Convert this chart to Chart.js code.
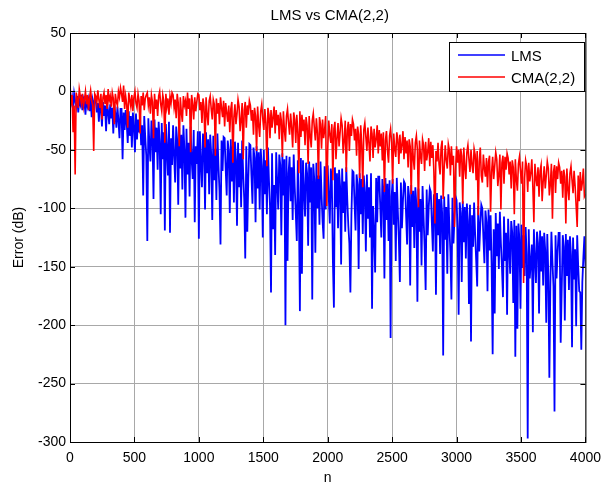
<!DOCTYPE html>
<html>
<head>
<meta charset="utf-8">
<script src="https://cdn.jsdelivr.net/npm/chart.js@4.4.0/dist/chart.umd.min.js"></script>
<style>html,body{margin:0;padding:0;background:#fff;}</style>
</head>
<body>
<canvas id="myChart" width="609" height="485"></canvas>
<script>
// error curves (dB), one value every 8 samples, n = 0..4000
var lms = [
 -3,-10,-5,-15,-2,-8,-13,-4,-18,-7,-11,-3,-16,-6,-9,-20,-4,-12,-7,-17,-5,-22,-8,-14,-6,
 -7,-18,-10,-26,-8,-15,-30,-9,-21,-12,-34,-10,-17,-28,-11,-23,-14,-36,-12,-19,-31,-13,-25,-40,-15,
 -15,-58,-18,-33,-16,-27,-44,-17,-38,-21,-48,-18,-30,-52,-19,-41,-24,-35,-20,-46,-29,-89,-21,-39,-55,
 -128,-23,-45,-60,-25,-38,-92,-24,-52,-31,-67,-26,-43,-105,-27,-58,-35,-119,-28,-49,-72,-26,-121,-40,-63,
 -29,-55,-78,-30,-42,-97,-31,-66,-37,-84,-29,-50,-108,-32,-71,-44,-90,-30,-58,-75,-33,-112,-47,-62,-34,
 -126,-34,-60,-82,-36,-47,-101,-35,-70,-41,-88,-37,-54,-110,-38,-76,-49,-93,-36,-63,-85,-131,-42,-68,-39,
 -40,-66,-89,-42,-51,-104,-41,-77,-46,-95,-43,-58,-115,-44,-82,-53,-99,-42,-70,-92,-143,-47,-120,-74,-45,
 -46,-72,-96,-48,-57,-112,-47,-83,-52,-101,-49,-64,-125,-50,-88,-59,-105,-48,-76,-98,-172,-53,-118,-80,-140,
 -52,-78,-101,-54,-63,-123,-53,-89,-58,-200,-55,-145,-70,-56,-94,-65,-110,-54,-82,-104,-128,-59,-96,-188,-57,
 -156,-59,-84,-107,-61,-70,-132,-60,-95,-65,-178,-62,-76,-138,-61,-100,-72,-114,-60,-88,-111,-126,-64,-101,-63,
 -64,-90,-113,-66,-75,-144,-185,-65,-99,-70,-117,-67,-81,-148,-66,-104,-77,-120,-65,-93,-115,-130,-172,-106,-68,
 -69,-95,-119,-71,-80,-152,-70,-105,-75,-122,-72,-86,-137,-71,-109,-82,-125,-70,-186,-98,-121,-155,-74,-112,-73,
 -73,-99,-125,-75,-84,-160,-74,-110,-79,-128,-76,-211,-90,-75,-114,-86,-145,-74,-102,-127,-163,-78,-117,-93,-77,
 -79,-105,-131,-81,-90,-166,-80,-116,-85,-134,-82,-97,-180,-83,-120,-92,-149,-81,-108,-133,-170,-84,-123,-99,-83,
 -86,-112,-137,-88,-97,-174,-87,-123,-92,-139,-89,-104,-226,-90,-127,-99,-156,-88,-115,-138,-178,-91,-130,-107,-90,
 -93,-118,-191,-95,-104,-163,-94,-129,-99,-143,-96,-111,-182,-97,-214,-106,-133,-95,-122,-144,-167,-98,-137,-114,-97,
 -100,-125,-147,-102,-112,-171,-101,-136,-106,-149,-225,-118,-190,-104,-141,-113,-152,-103,-130,-150,-176,-107,-145,-121,-191,
 -109,-134,-156,-111,-121,-181,-110,-227,-115,-203,-113,-127,-186,-114,-151,-123,-158,-116,-140,-297,-118,-160,-146,-131,-206,
 -118,-143,-164,-120,-130,-190,-119,-154,-124,-166,-121,-136,-198,-122,-157,-245,-165,-120,-146,-167,-274,-123,-160,-138,-121,
 -121,-215,-169,-123,-133,-196,-122,-158,-127,-170,-124,-140,-219,-125,-161,-135,-201,-123,-150,-171,-172,-221,-163,-142,-124,
 -150
];
var cma = [
 6,-9,-3,-35,-12,-71,-1,-6,-14,2,-4,-10,-2,-13,-7,0,-11,-3,-16,-5,1,-8,-12,-51,-2,
 -4,-10,1,-7,-14,-2,-24,-5,-1,-11,-3,-15,2,-8,-4,-13,-1,-6,-28,-2,-9,-12,0,-5,3,
 -2,-9,5,-15,-4,-11,-31,-1,-7,-13,-3,-17,-5,0,-10,-14,-2,-8,-36,-4,-12,-1,-16,-6,-3,
 -1,-12,-5,-19,-3,-9,-40,-2,-15,-7,-21,-4,0,-11,-17,-3,-8,-44,-2,-13,-6,-20,-4,-10,-1,
 -3,-14,-7,-23,-2,-10,-47,-5,-18,-26,-4,-12,-8,-21,-1,-15,-6,-52,-3,-11,-24,-5,-17,-9,-2,
 -3,-16,-9,-27,-6,-13,-48,-5,-20,-29,-8,-4,-15,-24,-7,-11,-55,-6,-19,-10,-28,-5,-14,-22,-8,
 -30,-10,-18,-26,-12,-35,-15,-9,-61,-22,-11,-28,-19,-7,-13,-34,-24,-10,-58,-16,-9,-31,-12,-20,-8,
 -12,-25,-16,-37,-14,-21,-51,-13,-29,-39,-17,-11,-23,-33,-15,-27,-64,-14,-20,-40,-16,-31,-22,-13,-36,
 -16,-29,-20,-41,-18,-25,-56,-17,-33,-43,-21,-15,-27,-37,-19,-31,-48,-18,-24,-44,-20,-35,-70,-17,-39,
 -20,-34,-24,-46,-22,-29,-62,-21,-38,-48,-25,-19,-31,-42,-23,-36,-75,-22,-28,-49,-24,-40,-33,-21,-98,
 -50,-25,-37,-44,-28,-76,-32,-26,-58,-40,-27,-47,-35,-23,-29,-53,-42,-25,-69,-33,-26,-51,-28,-38,-24,
 -28,-42,-32,-55,-30,-37,-74,-29,-46,-82,-33,-27,-39,-51,-31,-44,-60,-30,-36,-57,-32,-48,-41,-29,-53,
 -33,-47,-36,-59,-35,-86,-42,-34,-51,-61,-38,-32,-44,-79,-36,-49,-56,-35,-41,-62,-37,-53,-46,-34,-58,
 -39,-53,-42,-65,-41,-47,-88,-40,-57,-67,-44,-38,-50,-99,-42,-55,-62,-41,-46,-68,-43,-59,-52,-40,-64,
 -43,-57,-46,-69,-113,-51,-60,-44,-62,-71,-48,-42,-92,-65,-46,-59,-66,-45,-50,-72,-47,-63,-55,-116,-68,
 -47,-61,-50,-73,-49,-55,-96,-48,-65,-75,-52,-46,-58,-69,-50,-63,-70,-49,-54,-76,-51,-106,-60,-48,-72,
 -78,-54,-66,-73,-57,-82,-60,-55,-103,-69,-56,-75,-64,-52,-58,-81,-71,-54,-101,-61,-55,-79,-56,-67,-53,
 -57,-71,-60,-83,-59,-65,-105,-58,-75,-85,-62,-56,-68,-79,-60,-164,-74,-59,-64,-86,-61,-77,-70,-58,-82,
 -112,-62,-74,-81,-65,-90,-68,-63,-94,-77,-64,-83,-72,-60,-66,-89,-79,-62,-109,-69,-63,-87,-64,-75,-61,
 -65,-79,-68,-91,-67,-73,-113,-66,-83,-93,-70,-64,-76,-87,-68,-81,-98,-116,-72,-94,-69,-85,-78,-66,-90,
 -88
];
var step = 8;
var n = lms.map(function (v, i) { return i * step; });
var xTicks = [0, 500, 1000, 1500, 2000, 2500, 3000, 3500, 4000];
var yTicks = [50, 0, -50, -100, -150, -200, -250, -300];
var names = ['LMS', 'CMA(2,2)'];
var colors = ['#0000ff', '#ff0000'];
var titleText = 'LMS vs CMA(2,2)';
var fontFam = '"Liberation Sans", Arial, sans-serif';

function pts(arr) {
    return arr.map(function (v, i) { return { x: n[i], y: v }; });
}

// box, inner ticks, title and legend drawn like the original figure
var frame = {
    id: 'frame',
    afterDraw: function (chart) {
        var c = chart.ctx, a = chart.chartArea;
        var xs = chart.scales.x, ys = chart.scales.y;
        c.save();
        c.strokeStyle = '#000';
        c.lineWidth = 1;
        c.strokeRect(a.left + 0.5, a.top + 0.5, a.right - a.left, a.bottom - a.top);
        c.beginPath();
        xTicks.forEach(function (v) {
            var p = Math.round(xs.getPixelForValue(v)) + 0.5;
            c.moveTo(p, a.bottom); c.lineTo(p, a.bottom - 5);
            c.moveTo(p, a.top); c.lineTo(p, a.top + 5);
        });
        yTicks.forEach(function (v) {
            var p = Math.round(ys.getPixelForValue(v)) + 0.5;
            c.moveTo(a.left, p); c.lineTo(a.left + 5, p);
            c.moveTo(a.right, p); c.lineTo(a.right - 5, p);
        });
        c.stroke();

        c.fillStyle = '#000';
        c.font = '15px ' + fontFam;
        c.textAlign = 'center';
        c.textBaseline = 'middle';
        c.fillText(titleText, (a.left + a.right) / 2 + 2, 16);

        // legend box
        var bx = 449, by = 42, bw = 135, bh = 49;
        c.fillStyle = '#fff';
        c.fillRect(bx, by, bw, bh);
        c.strokeStyle = '#000';
        c.strokeRect(bx + 0.5, by + 0.5, bw, bh);
        c.textAlign = 'left';
        names.forEach(function (name, i) {
            var ly = by + 13 + i * 22;
            c.beginPath();
            c.strokeStyle = colors[i];
            c.lineWidth = 1.5;
            c.moveTo(458, ly); c.lineTo(505, ly);
            c.stroke();
            c.fillStyle = '#000';
            c.fillText(name, 511, ly + 2);
        });
        c.restore();
    }
};

var ctx = document.getElementById('myChart').getContext('2d');
var chart = new Chart(ctx, {
    type: 'line',
    data: {
        datasets: [{
            label: names[0],
            data: pts(lms),
            borderColor: colors[0],
            borderWidth: 1.8,
            pointRadius: 0,
            order: 2
        }, {
            label: names[1],
            data: pts(cma),
            borderColor: colors[1],
            borderWidth: 1.6,
            pointRadius: 0,
            order: 1
        }]
    },
    options: {
        responsive: false,
        animation: false,
        devicePixelRatio: 1,
        layout: { padding: { top: 33, right: 19, left: 0, bottom: 0 } },
        plugins: {
            legend: { display: false },
            tooltip: { enabled: false },
            title: { display: false }
        },
        scales: {
            x: {
                type: 'linear',
                min: 0,
                max: 4000,
                afterFit: function (s) { s.height = 43; },
                ticks: { stepSize: 500, color: '#000', font: { size: 14, family: fontFam }, padding: 8, maxRotation: 0,
                    callback: function (v) { return String(v); } },
                grid: { color: '#a8a8a8', drawTicks: false },
                border: { color: '#000' },
                title: { display: true, text: 'n', color: '#000', font: { size: 14, family: fontFam }, padding: { top: 0, bottom: -2 } }
            },
            y: {
                min: -300,
                max: 50,
                afterFit: function (s) { s.width = 70; },
                ticks: { stepSize: 50, color: '#000', font: { size: 14, family: fontFam }, padding: 4,
                    callback: function (v) { return String(v); } },
                grid: { color: '#a8a8a8', drawTicks: false },
                border: { color: '#000' },
                title: { display: true, text: 'Error (dB)', color: '#000', font: { size: 14, family: fontFam }, padding: { top: 11, bottom: 0 } }
            }
        }
    },
    plugins: [frame]
});
</script>
</body>
</html>
